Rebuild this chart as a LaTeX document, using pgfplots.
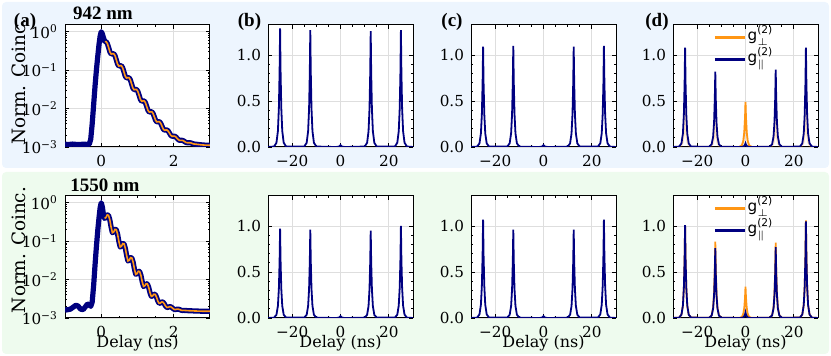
\documentclass[border=0pt]{standalone}
\usepackage{amsmath}
\usepackage{fontspec}
\setmainfont{DejaVu Serif}
\setsansfont{DejaVu Sans}
\newfontfamily\tnr{Liberation Serif}
\usepackage{pgfplots}
\pgfplotsset{compat=1.18}
\usepackage{pgfplotstable}

\definecolor{navyc}{RGB}{0,0,128}
\definecolor{orng}{RGB}{255,150,20}
\definecolor{bgblue}{RGB}{237,245,254}
\definecolor{bggreen}{RGB}{238,251,238}

% decay curves: x (ns), normalised coincidences
\pgfplotstableread{
x y
-1.00 0.00118
-0.90 0.00116
-0.80 0.00119
-0.70 0.00117
-0.60 0.00116
-0.50 0.00118
-0.40 0.00117
-0.33 0.00118
-0.29 0.0016
-0.25 0.0040
-0.21 0.0125
-0.17 0.040
-0.13 0.110
-0.09 0.260
-0.06 0.480
-0.03 0.780
0.00 1.000
0.03 0.880
0.06 0.700
0.100 0.551
0.135 0.552
0.170 0.489
0.205 0.384
0.240 0.296
0.275 0.263
0.310 0.268
0.345 0.268
0.380 0.238
0.415 0.187
0.450 0.144
0.485 0.128
0.520 0.130
0.555 0.131
0.590 0.116
0.625 0.0911
0.660 0.0704
0.695 0.0626
0.730 0.0637
0.765 0.0638
0.800 0.0567
0.835 0.0447
0.870 0.0347
0.905 0.0309
0.940 0.0314
0.975 0.0315
1.010 0.0280
1.045 0.0222
1.080 0.0174
1.115 0.0155
1.150 0.0158
1.185 0.0158
1.220 0.0142
1.255 0.0113
1.290 0.00899
1.325 0.00809
1.360 0.00823
1.395 0.00824
1.430 0.00743
1.465 0.00606
1.500 0.00493
1.535 0.00449
1.570 0.00455
1.605 0.00456
1.640 0.00416
1.675 0.00350
1.710 0.00295
1.745 0.00274
1.780 0.00277
1.815 0.00277
1.850 0.00258
1.885 0.00227
1.920 0.00200
1.955 0.00190
1.990 0.00191
2.025 0.00191
2.060 0.00182
2.095 0.00167
2.130 0.00154
2.165 0.00149
2.200 0.00149
2.235 0.00149
2.270 0.00145
2.305 0.00137
2.340 0.00131
2.375 0.00129
2.410 0.00129
2.445 0.00129
2.480 0.00127
2.515 0.00123
2.550 0.00120
2.650 0.00117
2.750 0.00114
2.850 0.00112
3.000 0.00111
}\decayA

\pgfplotstableread{
x y
-1.00 0.00160
-0.92 0.00165
-0.85 0.00170
-0.78 0.00190
-0.70 0.00215
-0.64 0.00205
-0.57 0.00170
-0.50 0.00165
-0.44 0.00195
-0.38 0.00230
-0.33 0.00225
-0.29 0.00200
-0.25 0.00260
-0.21 0.0070
-0.17 0.025
-0.13 0.080
-0.09 0.220
-0.06 0.420
-0.03 0.750
0.00 1.000
0.03 0.780
0.06 0.500
0.093 0.392
0.128 0.412
0.164 0.482
0.200 0.472
0.236 0.361
0.272 0.232
0.307 0.166
0.343 0.174
0.379 0.203
0.415 0.199
0.451 0.153
0.486 0.0983
0.522 0.0705
0.558 0.0740
0.594 0.0865
0.630 0.0846
0.665 0.0651
0.701 0.0422
0.737 0.0305
0.773 0.0320
0.809 0.0372
0.844 0.0364
0.880 0.0283
0.916 0.0186
0.952 0.0137
0.988 0.0143
1.023 0.0165
1.059 0.0162
1.095 0.0128
1.131 0.00870
1.167 0.00663
1.202 0.00690
1.238 0.00782
1.274 0.00768
1.310 0.00623
1.346 0.00453
1.381 0.00366
1.417 0.00377
1.453 0.00416
1.489 0.00410
1.525 0.00349
1.560 0.00277
1.596 0.00241
1.632 0.00245
1.668 0.00262
1.704 0.00259
1.739 0.00234
1.775 0.00204
1.811 0.00188
1.847 0.00190
1.883 0.00197
1.918 0.00196
1.954 0.00185
1.990 0.00173
2.026 0.00166
2.062 0.00167
2.097 0.00170
2.133 0.00169
2.169 0.00165
2.205 0.00159
2.241 0.00157
2.276 0.00158
2.400 0.00155
2.600 0.00152
2.800 0.00150
3.000 0.00150
}\decayB

% g2 histograms: A = 942 nm row, B = 1550 nm row; o = perpendicular (orange)
\pgfplotstableread{
x bA cA dA oA bB cB dB oB
-30.0 0 0 0 0 0 0 0 0
-27.5 0.005 0.004 0.004 0.002 0.004 0.004 0.004 0.004
-26.5 0.046 0.039 0.039 0.014 0.035 0.039 0.036 0.036
-25.9 0.174 0.147 0.146 0.054 0.131 0.144 0.136 0.135
-25.5 0.424 0.359 0.355 0.132 0.319 0.352 0.332 0.329
-25.2 0.827 0.699 0.692 0.256 0.622 0.686 0.647 0.641
-25.0 1.29 1.09 1.08 0.40 0.97 1.07 1.01 1.00
-24.8 0.827 0.699 0.692 0.256 0.622 0.686 0.647 0.641
-24.5 0.424 0.359 0.355 0.132 0.319 0.352 0.332 0.329
-24.1 0.174 0.147 0.146 0.054 0.131 0.144 0.136 0.135
-23.5 0.046 0.039 0.039 0.014 0.035 0.039 0.036 0.036
-22.5 0.005 0.004 0.004 0.002 0.004 0.004 0.004 0.004
-15.0 0.005 0.004 0.003 0.001 0.004 0.004 0.003 0.003
-14.0 0.046 0.040 0.030 0.011 0.035 0.035 0.027 0.030
-13.4 0.171 0.149 0.111 0.041 0.130 0.130 0.103 0.112
-13.0 0.418 0.362 0.270 0.099 0.316 0.316 0.250 0.273
-12.7 0.814 0.705 0.526 0.192 0.615 0.615 0.487 0.532
-12.5 1.27 1.10 0.82 0.30 0.96 0.96 0.76 0.83
-12.3 0.814 0.705 0.526 0.192 0.615 0.615 0.487 0.532
-12.0 0.418 0.362 0.270 0.099 0.316 0.316 0.250 0.273
-11.6 0.171 0.149 0.111 0.041 0.130 0.130 0.103 0.112
-11.0 0.046 0.040 0.030 0.011 0.035 0.035 0.027 0.030
-10.0 0.005 0.004 0.003 0.001 0.004 0.004 0.003 0.003
-2.5 0 0 0 0.002 0 0 0 0.001
-1.5 0.001 0.001 0.001 0.018 0.001 0.001 0.002 0.012
-0.9 0.003 0.003 0.005 0.066 0.003 0.003 0.008 0.046
-0.5 0.007 0.007 0.013 0.161 0.007 0.007 0.020 0.112
-0.2 0.013 0.013 0.026 0.314 0.013 0.013 0.038 0.218
0.0 0.02 0.02 0.04 0.49 0.02 0.02 0.06 0.34
0.2 0.013 0.013 0.026 0.314 0.013 0.013 0.038 0.218
0.5 0.007 0.007 0.013 0.161 0.007 0.007 0.020 0.112
0.9 0.003 0.003 0.005 0.066 0.003 0.003 0.008 0.046
1.5 0.001 0.001 0.001 0.018 0.001 0.001 0.002 0.012
2.5 0 0 0 0.002 0 0 0 0.001
10.0 0.005 0.004 0.003 0.001 0.004 0.004 0.003 0.003
11.0 0.045 0.039 0.030 0.011 0.034 0.035 0.028 0.030
11.6 0.170 0.147 0.113 0.041 0.128 0.130 0.104 0.111
12.0 0.415 0.359 0.276 0.099 0.313 0.316 0.253 0.270
12.3 0.808 0.699 0.538 0.192 0.609 0.615 0.494 0.526
12.5 1.26 1.09 0.84 0.30 0.95 0.96 0.77 0.82
12.7 0.808 0.699 0.538 0.192 0.609 0.615 0.494 0.526
13.0 0.415 0.359 0.276 0.099 0.313 0.316 0.253 0.270
13.4 0.170 0.147 0.113 0.041 0.128 0.130 0.104 0.111
14.0 0.045 0.039 0.030 0.011 0.034 0.035 0.028 0.030
15.0 0.005 0.004 0.003 0.001 0.004 0.004 0.003 0.003
22.5 0.005 0.004 0.004 0.002 0.004 0.004 0.004 0.004
23.5 0.046 0.040 0.039 0.014 0.036 0.039 0.038 0.038
24.1 0.171 0.149 0.146 0.054 0.135 0.144 0.142 0.143
24.5 0.418 0.362 0.355 0.132 0.329 0.352 0.345 0.349
24.8 0.814 0.705 0.692 0.256 0.641 0.686 0.673 0.679
25.0 1.27 1.10 1.08 0.40 1.00 1.07 1.05 1.06
25.2 0.814 0.705 0.692 0.256 0.641 0.686 0.673 0.679
25.5 0.418 0.362 0.355 0.132 0.329 0.352 0.345 0.349
25.9 0.171 0.149 0.146 0.054 0.135 0.144 0.142 0.143
26.5 0.046 0.040 0.039 0.014 0.036 0.039 0.038 0.038
27.5 0.005 0.004 0.004 0.002 0.004 0.004 0.004 0.004
30.0 0 0 0 0 0 0 0 0
}\gtwo

\newcommand{\lbl}{\fontsize{7.6}{8.5}\selectfont}

\pgfplotsset{
  panelstyle/.style={scale only axis, width=72.5pt, height=61pt, anchor=south west,
    axis background/.style={fill=white},
    grid=major, major grid style={black!13, line width=0.4pt},
    tick align=inside, major tick length=2.2pt, minor tick length=1.2pt,
    every tick/.style={black, line width=0.4pt},
    axis line style={line width=0.5pt},
    ticklabel style={font=\lbl},
    xticklabel style={yshift=-0.8pt},
  },
  decaystyle/.style={panelstyle, xmin=-1, xmax=3, ymin=1e-3, ymax=1.5,
    xtick={0,2}, xticklabels={0,2}, minor x tick num=3,
    ytick={0.001,0.01,0.1,1},
    yticklabels={10\textsuperscript{−3},10\textsuperscript{−2},10\textsuperscript{−1},10\textsuperscript{0}},
    minor ytick={0.002,0.003,0.004,0.005,0.006,0.007,0.008,0.009,0.02,0.03,0.04,0.05,0.06,0.07,0.08,0.09,0.2,0.3,0.4,0.5,0.6,0.7,0.8,0.9}},
  gstyle/.style={panelstyle, xmin=-30, xmax=30, ymin=0, ymax=1.326,
    xtick={-20,0,20}, xticklabels={−20,0,20}, minor x tick num=3,
    ytick={0,0.5,1}, yticklabels={0.0,0.5,1.0}, minor y tick num=4},
  legstyle/.style={legend style={at={(0.27,1.0)}, anchor=north west, draw=none, fill=none,
    font=\lbl, row sep=0pt, inner sep=0.5pt,
    nodes={inner sep=0.75pt, text height=6.5pt, text depth=3pt}}, legend cell align=left,
    legend image code/.code={\draw[##1, line width=1.3pt] (0pt,0pt) -- (15pt,0pt);}},
  blu/.style={navyc, line width=0.9pt},
  org/.style={orng, line width=0.9pt},
}

\begin{document}
\begin{tikzpicture}
\useasboundingbox (0,0) rectangle (415.5pt,178pt);
\fill[bgblue, rounded corners=2pt] (1pt,94pt) rectangle (414.5pt,177pt);
\fill[bggreen, rounded corners=2pt] (1pt,1pt) rectangle (414.5pt,92pt);

% ---- 942 nm row ----
\begin{axis}[ymode=log, decaystyle, at={(32.5pt,104.5pt)}]
\addplot[navyc, line width=2.6pt, line join=round] table[x=x, y=y] {\decayA};
\addplot[orng, line width=0.8pt, restrict x to domain=0.09:3.1] table[x=x, y=y] {\decayA};
\end{axis}
\begin{axis}[gstyle, at={(134pt,104.5pt)}]
\addplot[blu] table[x=x, y=bA] {\gtwo};
\end{axis}
\begin{axis}[gstyle, at={(235.5pt,104.5pt)}]
\addplot[blu] table[x=x, y=cA] {\gtwo};
\end{axis}
\begin{axis}[gstyle, legstyle, at={(336.5pt,104.5pt)}]
\addplot[org, restrict x to domain=-5:5] table[x=x, y=oA] {\gtwo};
\addlegendentry{\textsf{g}$^{\text{\sffamily(2)}}_{\perp}$}
\addplot[org, opacity=0.25, forget plot] table[x=x, y=oA] {\gtwo};
\addplot[blu] table[x=x, y=dA] {\gtwo};
\addlegendentry{\textsf{g}$^{\text{\sffamily(2)}}_{\parallel}$}
\end{axis}

% ---- 1550 nm row ----
\begin{axis}[ymode=log, decaystyle, at={(32.5pt,19pt)}]
\addplot[navyc, line width=2.6pt, line join=round] table[x=x, y=y] {\decayB};
\addplot[orng, line width=0.8pt, restrict x to domain=0.09:3.1] table[x=x, y=y] {\decayB};
\end{axis}
\begin{axis}[gstyle, at={(134pt,19pt)}]
\addplot[blu] table[x=x, y=bB] {\gtwo};
\end{axis}
\begin{axis}[gstyle, at={(235.5pt,19pt)}]
\addplot[blu] table[x=x, y=cB] {\gtwo};
\end{axis}
\begin{axis}[gstyle, legstyle, at={(336.5pt,19pt)}]
\addplot[org] table[x=x, y=oB] {\gtwo};
\addlegendentry{\textsf{g}$^{\text{\sffamily(2)}}_{\perp}$}
\addplot[blu] table[x=x, y=dB] {\gtwo};
\addlegendentry{\textsf{g}$^{\text{\sffamily(2)}}_{\parallel}$}
\end{axis}

% axis labels
\begin{scope}[font=\fontsize{9.2}{10}\selectfont]
\node[rotate=90] at (9.5pt,137.25pt) {Norm. Coinc.};
\node[rotate=90] at (9.5pt,53pt) {Norm. Coinc.};
\end{scope}
\begin{scope}[font=\fontsize{8}{9}\selectfont]
\node at (68.75pt,6.2pt) {Delay (ns)};
\node at (170.25pt,6.2pt) {Delay (ns)};
\node at (271.75pt,6.2pt) {Delay (ns)};
\node at (372.75pt,6.2pt) {Delay (ns)};
\end{scope}
\begin{scope}[font=\tnr\bfseries\fontsize{9.5}{10}\selectfont]
\node at (12.5pt,167pt) {(a)};
\node at (124.75pt,167pt) {(b)};
\node at (226pt,167pt) {(c)};
\node at (328.5pt,167pt) {(d)};
\node at (51.5pt,171.5pt) {942 nm};
\node at (52.5pt,85.5pt) {1550 nm};
\end{scope}
\end{tikzpicture}
\end{document}
